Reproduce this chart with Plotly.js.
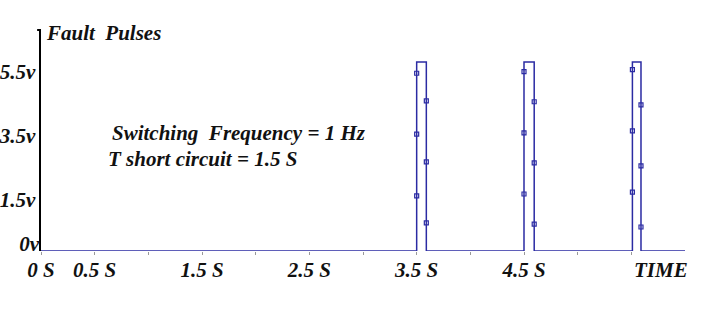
<!DOCTYPE html>
<html><head><meta charset="utf-8">
<script src="https://cdn.plot.ly/plotly-3.0.1.min.js"></script>
<style>html,body{margin:0;padding:0;background:#fff}#chart{width:710px;height:326px}</style>
</head><body><div id="chart"></div>
<script>
// Data
const pulseStarts = [3.50, 4.50, 5.51];
const pulseEnds   = [3.59, 4.595, 5.59];
const pulseHeight = 5.9;
const timeEnd = 6.0;
// small square markers on pulse edges
const markerX = [3.50, 3.50, 3.50, 3.59, 3.59, 3.59,
                 4.50, 4.50, 4.50, 4.595, 4.595, 4.595,
                 5.51, 5.51, 5.51, 5.59, 5.59, 5.59];
const markerY = [5.55, 3.65, 1.72, 4.69, 2.78, 0.88,
                 5.60, 3.69, 1.78, 4.66, 2.75, 0.84,
                 5.66, 3.75, 1.84, 4.56, 2.66, 0.75];
const xTickVals = [0, 0.5, 1, 1.5, 2, 2.5, 3, 3.5, 4, 4.5, 5, 5.5];
const xTickText = ['0 S', '0.5 S', '', '1.5 S', '', '2.5 S', '', '3.5 S', '', '4.5 S', '', ''];
const yTickVals = [0, 1.5, 3.5, 5.5];
const yTickText = ['0v', '1.5v', '3.5v', '5.5v'];

// build the square pulse waveform
const wx = [0], wy = [0];
for (let i = 0; i < pulseStarts.length; i++) {
  wx.push(pulseStarts[i], pulseStarts[i], pulseEnds[i], pulseEnds[i]);
  wy.push(0, pulseHeight, pulseHeight, 0);
}
wx.push(timeEnd); wy.push(0);

const lineColor = '#2b2ba3';
const tf = {family: '"Liberation Serif", "Times New Roman", serif', size: 21, color: '#111', weight: 'bold', style: 'italic'};
const yRange = [0, 6.9];

const traces = [
  {x: wx, y: wy, type: 'scatter', mode: 'lines', line: {color: lineColor, width: 1.5}, hoverinfo: 'skip', cliponaxis: false},
  {x: markerX, y: markerY, type: 'scatter', mode: 'markers', marker: {symbol: 'square-open', size: 4, color: lineColor, line: {width: 1.2, color: lineColor}}, cliponaxis: false},
  {x: [0], y: [0], yaxis: 'y2', type: 'scatter', mode: 'none', hoverinfo: 'skip'}
];

const layout = {
  width: 710, height: 326,
  margin: {l: 41, r: 25, t: 30, b: 75},
  paper_bgcolor: '#fff', plot_bgcolor: '#fff',
  showlegend: false,
  xaxis: {range: [0, timeEnd], showgrid: false, zeroline: false, showline: false,
          tickmode: 'array', tickvals: xTickVals, ticktext: xTickText,
          ticks: 'outside', ticklen: 3, tickcolor: '#999', tickwidth: 1,
          tickfont: tf, ticklabelstandoff: -3, fixedrange: true},
  yaxis: {range: yRange, showgrid: false, zeroline: false, showline: true,
          linecolor: '#000', linewidth: 2.5,
          tickmode: 'array', tickvals: yTickVals.slice(1), ticktext: yTickText.slice(1),
          ticks: '', tickfont: tf, ticklabelstandoff: -1, ticklabelshift: -3, fixedrange: true},
  yaxis2: {range: yRange, overlaying: 'y', side: 'left', showgrid: false, zeroline: false, showline: false,
          tickmode: 'array', tickvals: yTickVals.slice(0, 1), ticktext: yTickText.slice(0, 1),
          ticks: '', tickfont: tf, ticklabelstandoff: 1, ticklabelshift: -7, fixedrange: true},
  shapes: [
    {type: 'line', xref: 'paper', yref: 'paper', x0: -0.006, x1: 0, y0: 1, y1: 1, line: {color: '#000', width: 2}}
  ],
  annotations: [
    {text: 'Fault  Pulses', xref: 'x', yref: 'y', x: 0.03, y: 6.81, xanchor: 'left', yanchor: 'middle', showarrow: false, font: tf},
    {text: 'Switching  Frequency = 1 Hz', xref: 'x', yref: 'y', x: 0.64, y: 3.69, xanchor: 'left', yanchor: 'middle', showarrow: false, font: tf},
    {text: 'T short circuit = 1.5 S', xref: 'x', yref: 'y', x: 0.61, y: 2.88, xanchor: 'left', yanchor: 'middle', showarrow: false, font: tf},
    {text: 'TIME', xref: 'x', yref: 'paper', x: 5.78, y: -0.086, xanchor: 'center', yanchor: 'middle', showarrow: false, font: tf}
  ]
};
Plotly.newPlot('chart', traces, layout, {staticPlot: true});
</script></body></html>
